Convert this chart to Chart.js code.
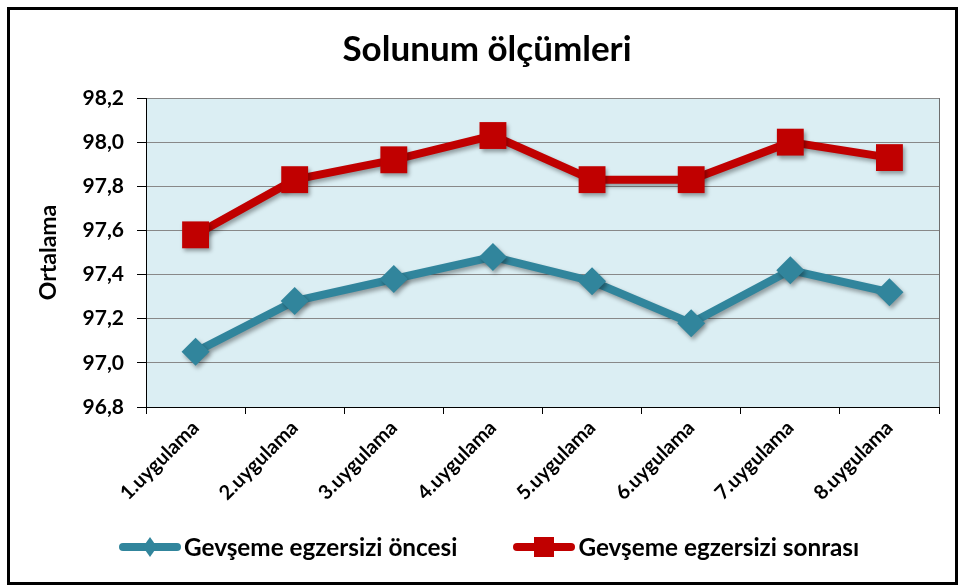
<!DOCTYPE html>
<html>
<head>
<meta charset="utf-8">
<script src="https://cdn.jsdelivr.net/npm/chart.js@4.4.1/dist/chart.umd.min.js"></script>
<style>
  html, body { margin: 0; padding: 0; background: #fff; }
  #wrap { position: relative; width: 962px; height: 587px; }
  #legend {
    position: absolute; top: 532px; left: 118px;
    display: flex; gap: 55px;
    font-family: Lato, sans-serif; font-weight: bold; font-size: 24.3px; color: #000;
    line-height: 29px;
  }
  .item { display: flex; align-items: center; }
  .item canvas { margin-right: 2px; }
</style>
</head>
<body>
<div id="wrap">
  <canvas id="solunumChart" width="962" height="587"></canvas>
  <div id="legend"></div>
</div>
<script>
// --- data ---
const categories = ["1.uygulama", "2.uygulama", "3.uygulama", "4.uygulama",
                    "5.uygulama", "6.uygulama", "7.uygulama", "8.uygulama"];
const beforeValues = [97.05, 97.28, 97.38, 97.48, 97.37, 97.18, 97.42, 97.32];
const afterValues = [97.58, 97.83, 97.92, 98.03, 97.83, 97.83, 98.00, 97.93];
const seriesNames = ["Gevşeme egzersizi öncesi", "Gevşeme egzersizi sonrası"];
const yTicks = [96.8, 97.0, 97.2, 97.4, 97.6, 97.8, 98.0, 98.2];

const BLUE = "#31859C";
const RED = "#C00000";

// plot background + outer frame
const frame = {
  id: "frame",
  beforeDraw(chart) {
    const { ctx, chartArea: a } = chart;
    ctx.save();
    ctx.fillStyle = "#fff";
    ctx.fillRect(0, 0, chart.width, chart.height);
    ctx.fillStyle = "#DBEEF3";
    ctx.fillRect(a.left, a.top, a.right - a.left, a.bottom - a.top);
    ctx.lineWidth = 3;
    ctx.strokeStyle = "#000";
    ctx.strokeRect(8.5, 8.5, chart.width - 14, chart.height - 12);
    ctx.restore();
  },
  afterDraw(chart) {
    const { ctx, chartArea: a } = chart;
    ctx.save();
    ctx.strokeStyle = "#6e6e6e";
    ctx.lineWidth = 1;
    ctx.beginPath();
    ctx.moveTo(a.right + 0.5, a.top);
    ctx.lineTo(a.right + 0.5, a.bottom);
    ctx.stroke();
    ctx.restore();
  }
};

// soft shadow under lines and markers
const shadow = {
  id: "shadow",
  beforeDatasetsDraw(chart) {
    const ctx = chart.ctx;
    ctx.save();
    ctx.shadowColor = "rgba(0,0,0,0.35)";
    ctx.shadowBlur = 4;
    ctx.shadowOffsetX = 2;
    ctx.shadowOffsetY = 3;
  },
  afterDatasetsDraw(chart) {
    chart.ctx.restore();
  }
};

const ctx = document.getElementById("solunumChart").getContext("2d");
const chart = new Chart(ctx, {
  type: "line",
  data: {
    labels: categories,
    datasets: [
      {
        label: seriesNames[0],
        data: beforeValues,
        borderColor: BLUE,
        backgroundColor: BLUE,
        borderWidth: 8,
        pointStyle: "rectRot",
        pointRadius: 14,
        pointBorderWidth: 0,
        tension: 0,
      },
      {
        label: seriesNames[1],
        data: afterValues,
        borderColor: RED,
        backgroundColor: RED,
        borderWidth: 8,
        pointStyle: "rect",
        pointRadius: 19,
        pointBorderWidth: 0,
        tension: 0,
      },
    ],
  },
  options: {
    responsive: false,
    animation: false,
    layout: { padding: { left: 35, right: 23, top: 0, bottom: 0 } },
    plugins: {
      legend: { display: false },
      tooltip: { enabled: false },
      title: {
        display: true,
        text: "Solunum ölçümleri",
        color: "#000",
        font: { family: "Lato", size: 35, weight: "bold" },
        padding: { top: 29, bottom: 27 },
      },
    },
    scales: {
      x: {
        offset: true,
        grid: { offset: true, drawOnChartArea: false, tickLength: 7, tickColor: "#000" },
        border: { color: "#000", width: 1 },
        ticks: {
          color: "#000",
          maxRotation: 45,
          minRotation: 45,
          padding: 2,
          font: { family: "Lato", size: 20, weight: "bold" },
        },
        afterFit(scale) { scale.height = 180; },
      },
      y: {
        min: 96.8,
        max: 98.2,
        afterBuildTicks(scale) {
          scale.ticks = yTicks.map(v => ({ value: v }));
        },
        grid: { color: "#888888", tickLength: 9, tickColor: "#000" },
        border: { color: "#000", width: 1 },
        ticks: {
          color: "#000",
          padding: 13,
          font: { family: "Lato", size: 21, weight: "bold" },
          callback: v => v.toFixed(1).replace(".", ","),
        },
        title: {
          display: true,
          text: "Ortalama",
          color: "#000",
          font: { family: "Lato", size: 23, weight: "bold" },
          padding: { top: 0, bottom: 0 },
        },
        afterFit(scale) { scale.width = 111; },
      },
    },
  },
  plugins: [frame, shadow],
});

// legend: line with marker, built from the datasets
const legendEl = document.getElementById("legend");
chart.data.datasets.forEach(ds => {
  const item = document.createElement("div");
  item.className = "item";
  const sw = document.createElement("canvas");
  sw.width = 64; sw.height = 26;
  const c = sw.getContext("2d");
  c.strokeStyle = ds.borderColor;
  c.lineWidth = 8;
  c.lineCap = "round";
  c.beginPath(); c.moveTo(5, 13); c.lineTo(59, 13); c.stroke();
  c.fillStyle = ds.backgroundColor;
  if (ds.pointStyle === "rect") {
    c.fillRect(22, 3, 20, 20);
  } else {
    c.beginPath(); c.moveTo(32, 3); c.lineTo(39, 13); c.lineTo(32, 23); c.lineTo(25, 13); c.closePath(); c.fill();
  }
  const txt = document.createElement("span");
  txt.textContent = ds.label;
  item.appendChild(sw);
  item.appendChild(txt);
  legendEl.appendChild(item);
});
</script>
</body>
</html>
